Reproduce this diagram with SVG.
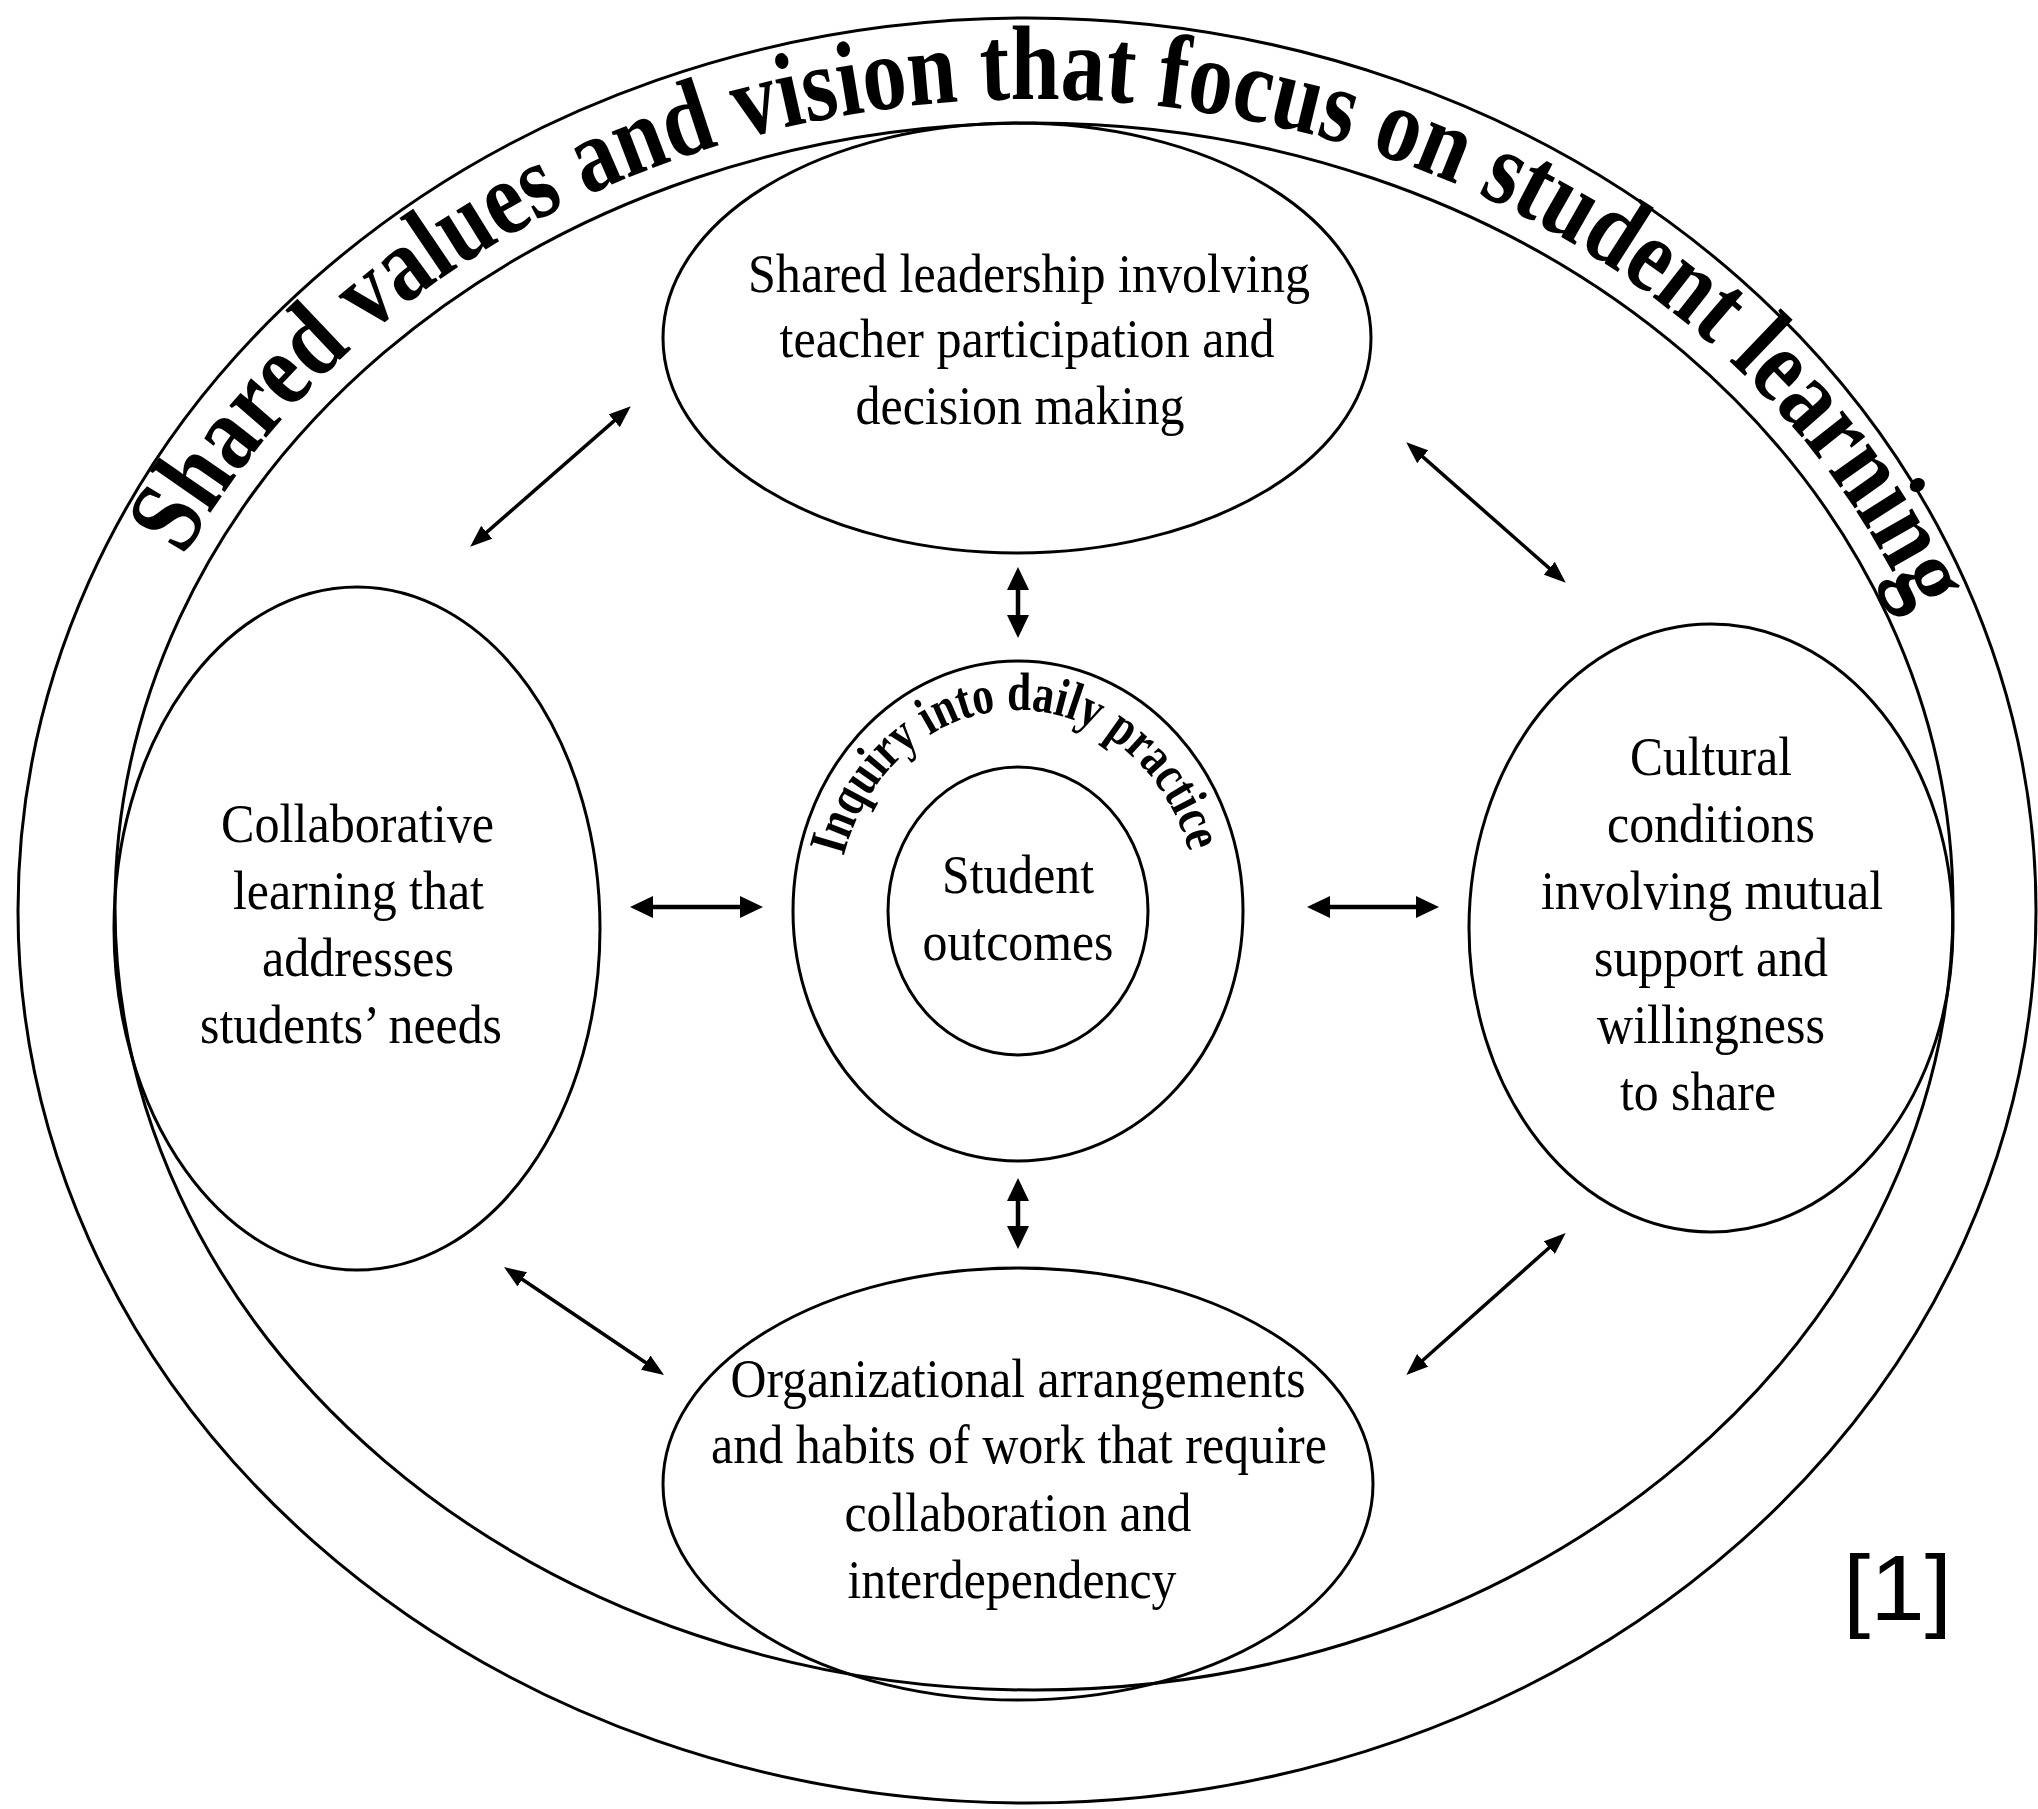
<svg xmlns="http://www.w3.org/2000/svg" width="2038" height="1809" viewBox="0 0 2038 1809">
<style>
.ring{fill:none;stroke:#000;stroke-width:3}
.node{fill:none;stroke:#000;stroke-width:3}
.t{font-family:"Liberation Serif","Times New Roman",serif;font-size:55px;fill:#000;text-anchor:middle}
.arc{font-family:"Liberation Serif","Times New Roman",serif;font-weight:bold;fill:#000}
.c{stroke:#000;fill:none}
.thin{stroke-width:3.5;marker-start:url(#ah);marker-end:url(#ah)}
.bold{stroke-width:4.5;marker-start:url(#ahb);marker-end:url(#ahb)}
.ref{font-family:"Liberation Sans",Arial,sans-serif;font-size:92px;fill:#000}
</style>
<defs>
<path id="titlePath" d="M 91,907 A 943,808 0 0 1 1977,907"/>
<path id="inqPath" d="M 837,911 A 180,201 0 0 1 1197,911"/>
<marker id="ah" markerUnits="userSpaceOnUse" markerWidth="22" markerHeight="17" viewBox="0 0 22 17" refX="1" refY="8.5" orient="auto-start-reverse"><path d="M0,0 L22,8.5 L0,17 z" fill="#000"/></marker>
<marker id="ahb" markerUnits="userSpaceOnUse" markerWidth="23" markerHeight="22" viewBox="0 0 23 22" refX="1" refY="11" orient="auto-start-reverse"><path d="M0,0 L23,11 L0,22 z" fill="#000"/></marker>
</defs>
<rect width="2038" height="1809" fill="#fff"/>

<g id="shared-values">
<ellipse class="ring" cx="1027" cy="910.5" rx="1009" ry="892.5"/>
<ellipse class="ring" cx="1034" cy="906.5" rx="919" ry="783.5"/>
<text class="arc" font-size="106"><textPath href="#titlePath" startOffset="366" textLength="2085" lengthAdjust="spacingAndGlyphs">Shared values and vision that focus on student learning</textPath></text>
</g>

<g id="shared-leadership">
<ellipse class="node" cx="1017" cy="338" rx="354" ry="215"/>
<text class="t" x="1029" y="292" textLength="562" lengthAdjust="spacingAndGlyphs">Shared leadership involving</text>
<text class="t" x="1027" y="357" textLength="495" lengthAdjust="spacingAndGlyphs">teacher participation and</text>
<text class="t" x="1020" y="424" textLength="329" lengthAdjust="spacingAndGlyphs">decision making</text>
</g>

<g id="collaborative-learning">
<ellipse class="node" cx="357" cy="928.5" rx="243" ry="341.5"/>
<text class="t" x="357.5" y="842" textLength="273" lengthAdjust="spacingAndGlyphs">Collaborative</text>
<text class="t" x="358.5" y="909" textLength="251" lengthAdjust="spacingAndGlyphs">learning that</text>
<text class="t" x="358" y="976" textLength="192" lengthAdjust="spacingAndGlyphs">addresses</text>
<text class="t" x="351" y="1043" textLength="302" lengthAdjust="spacingAndGlyphs">students’ needs</text>
</g>

<g id="cultural-conditions">
<ellipse class="node" cx="1711" cy="928" rx="242" ry="304"/>
<text class="t" x="1711" y="775" textLength="162" lengthAdjust="spacingAndGlyphs">Cultural</text>
<text class="t" x="1711" y="842" textLength="208" lengthAdjust="spacingAndGlyphs">conditions</text>
<text class="t" x="1712" y="909" textLength="342" lengthAdjust="spacingAndGlyphs">involving mutual</text>
<text class="t" x="1711" y="976" textLength="234" lengthAdjust="spacingAndGlyphs">support and</text>
<text class="t" x="1711" y="1043" textLength="228" lengthAdjust="spacingAndGlyphs">willingness</text>
<text class="t" x="1698" y="1110" textLength="156" lengthAdjust="spacingAndGlyphs">to share</text>
</g>

<g id="organizational-arrangements">
<ellipse class="node" cx="1018" cy="1484" rx="355" ry="216"/>
<text class="t" x="1018" y="1397" textLength="575" lengthAdjust="spacingAndGlyphs">Organizational arrangements</text>
<text class="t" x="1019" y="1463" textLength="616" lengthAdjust="spacingAndGlyphs">and habits of work that require</text>
<text class="t" x="1018" y="1531" textLength="347" lengthAdjust="spacingAndGlyphs">collaboration and</text>
<text class="t" x="1012" y="1598" textLength="329" lengthAdjust="spacingAndGlyphs">interdependency</text>
</g>

<g id="inquiry">
<ellipse class="node" cx="1018" cy="911" rx="225" ry="250"/>
<text class="arc" font-size="54"><textPath href="#inqPath" startOffset="55" textLength="484" lengthAdjust="spacingAndGlyphs">Inquiry into daily practice</textPath></text>
</g>

<g id="student-outcomes">
<ellipse class="node" cx="1018" cy="911" rx="130" ry="144"/>
<text class="t" x="1018" y="893" textLength="152" lengthAdjust="spacingAndGlyphs">Student</text>
<text class="t" x="1018" y="960" textLength="191" lengthAdjust="spacingAndGlyphs">outcomes</text>
</g>

<g id="connectors">
<line class="c thin" x1="486" y1="532.9" x2="615" y2="420.1"/>
<line class="c thin" x1="1422" y1="456.1" x2="1550" y2="568.9"/>
<line class="c thin" x1="521.4" y1="1278.8" x2="646.6" y2="1363.2"/>
<line class="c thin" x1="1550" y1="1247.0" x2="1422" y2="1361.0"/>
<line class="c bold" x1="652" y1="907" x2="741" y2="907"/>
<line class="c bold" x1="1329" y1="907" x2="1417" y2="907"/>
<line class="c bold" x1="1018" y1="589" x2="1018" y2="616"/>
<line class="c bold" x1="1018" y1="1200" x2="1018" y2="1227"/>
</g>

<g id="citation">
<text class="ref" x="1843" y="1620" textLength="109" lengthAdjust="spacingAndGlyphs">[1]</text>
</g>
</svg>
